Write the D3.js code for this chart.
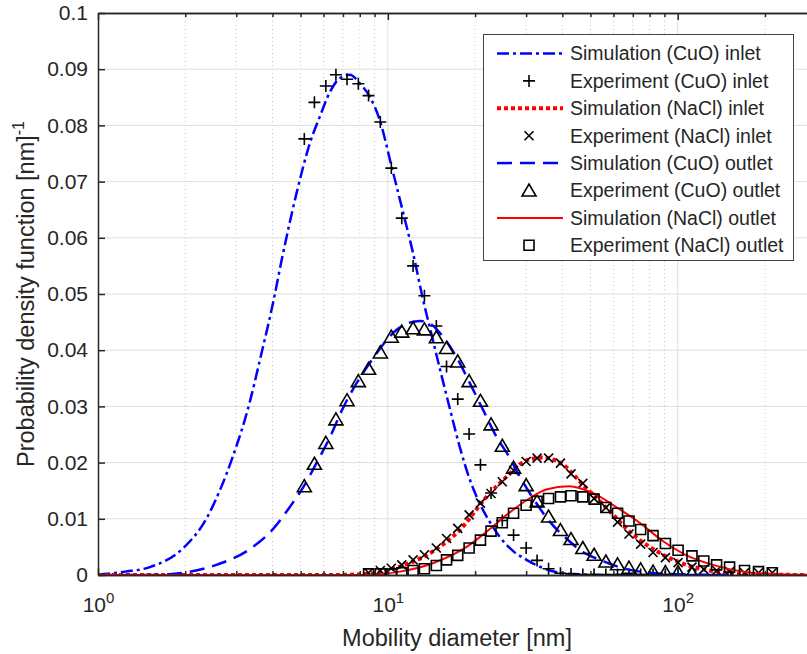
<!DOCTYPE html>
<meta charset="utf-8">
<script src="https://d3js.org/d3.v7.min.js"></script>
<style>
body { margin: 0; background: #fff; }
text { font-family: "Liberation Sans", Arial, sans-serif; fill: #262626; }
</style>
<body>
<script>
// measurement channels [nm] shared by the experiment series
var diam = [5.15, 5.58, 6.11, 6.62, 7.23, 7.91, 8.58, 9.42, 10.28, 11.17,
            12.22, 13.37, 14.7, 15.94, 17.42, 19.07, 20.87, 22.7, 24.82, 27.15,
            30.0, 32.72, 35.85, 39.4, 42.85, 47.05, 51.45, 56.5, 62.0, 67.9,
            74.5, 82.2, 90.7, 100.3, 112, 123, 136.2, 151, 170, 190, 212];

var expCuoIn = [0.0776, 0.0841, 0.0870, 0.0890, 0.0882, 0.0874, 0.0853, 0.0806, 0.0724, 0.0635,
                0.0550, 0.0497, 0.0443, 0.0371, 0.0313, 0.0251, 0.0196, 0.0146, 0.0097, 0.0071,
                0.0048, 0.0026, 0.0011, 0.0003, 0.0002, 0.0001, 0.0001, 0.0001, 0.0001, 0.0001,
                0.0001, 0.0001, 0.0001, 0.0001, null, null, null, null, null, null, null];

var expCuoOut = [0.0158, 0.0198, 0.0235, 0.0277, 0.0311, 0.0345, 0.0367, 0.0396, 0.0424, 0.0433,
                 0.0439, 0.0437, 0.0423, 0.0404, 0.0380, 0.0345, 0.0310, 0.0268, 0.0230, 0.0191,
                 0.0160, 0.0131, 0.0104, 0.0080, 0.0064, 0.0048, 0.0036, 0.0024, 0.0019, 0.0013,
                 0.0010, 0.0006, 0.0005, 0.0005, 0.0003, null, null, null, null, null, null];

var expNaclIn = [null, null, null, null, null, null, 0.0004, 0.0008, 0.0012, 0.0018,
                 0.0027, 0.0036, 0.0048, 0.0065, 0.0083, 0.0107, 0.0128, 0.0145, 0.0166, 0.0186,
                 0.0202, 0.0208, 0.0208, 0.0199, 0.0180, 0.0163, 0.0136, 0.0120, 0.0094, 0.0073,
                 0.0055, 0.0040, 0.0031, 0.0022, 0.0014, 0.0010, 0.0008, 0.0006, 0.0004, 0.0004, 0.0004];

var expNaclOut = [null, null, null, null, null, null, 0.0002, 0.0002, 0.0002, 0.0004,
                  0.0008, 0.0011, 0.0017, 0.0027, 0.0035, 0.0048, 0.0062, 0.0078, 0.0093, 0.0110,
                  0.0124, 0.0131, 0.0136, 0.0139, 0.0141, 0.0139, 0.0135, 0.0120, 0.0110, 0.0096,
                  0.0081, 0.0070, 0.0056, 0.0044, 0.0034, 0.0025, 0.0018, 0.0014, 0.0008, 0.0006, 0.0004];

// simulated curves
var simCuoInD = [1, 1.24, 1.51, 1.96, 2.37, 2.63, 2.92, 3.34, 3.62, 4.02, 4.30, 4.84, 5.38, 5.83,
                 6.32, 6.83, 7.39, 8.00, 8.66, 9.37, 10.3, 11.3, 12.2, 13.2, 14.3, 15.3, 16.4,
                 17.7, 19.2, 20.5, 22.5, 24.3, 27.0, 30.1, 34.4, 39.2, 47, 60, 150];
var simCuoInV = [0.0001, 0.0006, 0.0014, 0.0047, 0.0101, 0.0150, 0.0211, 0.0308, 0.0383, 0.0485,
                 0.0560, 0.0679, 0.0768, 0.0816, 0.0860, 0.0884, 0.0890, 0.0875, 0.0851, 0.0810,
                 0.0727, 0.0644, 0.0574, 0.0492, 0.0418, 0.0356, 0.0294, 0.0228, 0.0169, 0.0133,
                 0.0094, 0.0068, 0.0043, 0.0027, 0.0012, 0.0004, 0.0001, 0, 0];

var simCuoOutD = [1, 1.51, 1.97, 2.56, 3.34, 4.02, 4.59, 5.17, 5.67, 6.31, 7.00, 7.79, 8.66, 9.63,
                  10.7, 11.9, 12.9, 13.9, 15.5, 17.2, 19.2, 21.3, 23.7, 26.1, 28.9, 32.5, 36.3,
                  41.3, 47.1, 53.9, 64.8, 80.0, 104, 150];
var simCuoOutV = [0, 0, 0.0004, 0.0018, 0.0046, 0.0082, 0.0121, 0.0161, 0.0199, 0.0245, 0.0297,
                  0.0341, 0.0377, 0.0410, 0.0436, 0.0449, 0.0452, 0.0448, 0.0424, 0.0389, 0.0341,
                  0.0294, 0.0246, 0.0212, 0.0170, 0.0128, 0.0094, 0.0065, 0.0041, 0.0027, 0.0012,
                  0.0004, 0.0001, 0];

var simNaclInD = [1, 5, 6.45, 8.43, 11.0, 14.3, 17.7, 21.9, 25.7, 30.1, 34.4, 40.3, 47.2, 56.9,
                  70.4, 86.9, 107.3, 136, 177, 300];
var simNaclInV = [0, 0, 0, 0.0002, 0.0015, 0.0042, 0.0080, 0.0139, 0.0175, 0.0204, 0.0209, 0.0196,
                  0.0160, 0.0119, 0.0071, 0.0039, 0.0018, 0.0006, 0.0001, 0];

var simNaclOutD = [1, 5, 8.4, 11.0, 14.3, 18.7, 21.9, 25.7, 30.1, 35.2, 42.2, 50.9, 61.3, 73.9,
                   89.1, 107.3, 132.3, 167.4, 213, 300];
var simNaclOutV = [0, 0, 0, 0.0006, 0.0021, 0.0050, 0.0077, 0.0107, 0.0133, 0.0152, 0.0158, 0.0146,
                   0.0121, 0.0093, 0.0060, 0.0035, 0.0018, 0.0006, 0.0002, 0];

var yTicks = [0, 0.01, 0.02, 0.03, 0.04, 0.05, 0.06, 0.07, 0.08, 0.09, 0.1];
var xMajor = [1, 10, 100];
var xMinor = [2, 3, 4, 5, 6, 7, 8, 9, 20, 30, 40, 50, 60, 70, 80, 90, 200];

var width = 807, height = 654;
var pLeft = 98, pRight = 816, pTop = 13, pBottom = 575;

var x = d3.scaleLog().domain([1, 300]).range([pLeft, pRight]);
var y = d3.scaleLinear().domain([0, 0.1]).range([pBottom, pTop]);

var svg = d3.select("body").append("svg")
    .attr("width", width)
    .attr("height", height);

svg.append("rect").attr("width", width).attr("height", height).attr("fill", "#fff");

// grid
var grid = svg.append("g");
grid.selectAll(".minor")
    .data(xMinor)
  .enter().append("line")
    .attr("x1", d => x(d)).attr("x2", d => x(d))
    .attr("y1", pTop).attr("y2", pBottom)
    .attr("stroke", "#c4c4c4")
    .attr("stroke-dasharray", "1,3");
grid.selectAll(".gx")
    .data(xMajor.slice(1))
  .enter().append("line")
    .attr("x1", d => x(d)).attr("x2", d => x(d))
    .attr("y1", pTop).attr("y2", pBottom)
    .attr("stroke", "#dedede");
grid.selectAll(".gy")
    .data(yTicks.slice(1, -1))
  .enter().append("line")
    .attr("x1", pLeft).attr("x2", pRight)
    .attr("y1", d => y(d)).attr("y2", d => y(d))
    .attr("stroke", "#dedede");

// curves
svg.append("clipPath").attr("id", "clip")
  .append("rect")
    .attr("x", pLeft).attr("y", pTop)
    .attr("width", pRight - pLeft).attr("height", pBottom - pTop);

var line = d3.line()
    .x(d => x(d[0]))
    .y(d => y(d[1]))
    .curve(d3.curveMonotoneX);

var plot = svg.append("g").attr("clip-path", "url(#clip)");

function curve(ds, vs, color, w, dash) {
  plot.append("path")
    .attr("d", line(ds.map((d, i) => [d, vs[i]])))
    .attr("fill", "none")
    .attr("stroke", color)
    .attr("stroke-width", w)
    .attr("stroke-dasharray", dash);
}

function markerPath(kind, cx, cy) {
  if (kind == "plus") return "M" + (cx - 6) + "," + cy + "h12M" + cx + "," + (cy - 6) + "v12";
  if (kind == "cross") return "M" + (cx - 4.5) + "," + (cy - 4.5) + "l9,9M" + (cx + 4.5) + "," + (cy - 4.5) + "l-9,9";
  if (kind == "tri") return "M" + cx + "," + (cy - 6.5) + "L" + (cx + 7) + "," + (cy + 5.5) + "L" + (cx - 7) + "," + (cy + 5.5) + "Z";
  return "M" + (cx - 5) + "," + (cy - 5) + "h10v10h-10Z";
}

function markers(vs, kind) {
  plot.append("g").selectAll("path")
    .data(diam.map((d, i) => [d, vs[i]]).filter(d => d[1] != null))
  .enter().append("path")
    .attr("d", d => markerPath(kind, x(d[0]), y(d[1])))
    .attr("fill", "none")
    .attr("stroke", "#000")
    .attr("stroke-width", 1.6);
}

curve(simCuoInD, simCuoInV, "#0000ff", 2.5, "12,4,3,4");
markers(expCuoIn, "plus");
curve(simNaclInD, simNaclInV, "#ff0000", 4, "4,3");
markers(expNaclIn, "cross");
curve(simCuoOutD, simCuoOutV, "#0000ff", 2.5, "15,8");
markers(expCuoOut, "tri");
curve(simNaclOutD, simNaclOutV, "#ff0000", 2, null);
markers(expNaclOut, "square");

// axes
var axisColor = "#262626";

var yAxis = svg.append("g")
    .attr("transform", "translate(" + pLeft + ",0)")
    .call(d3.axisLeft(y).tickValues(yTicks).tickSize(-7).tickSizeOuter(0).tickPadding(10)
          .tickFormat(d => String(+d.toFixed(2))));
yAxis.selectAll("text").attr("font-size", 21).attr("font-family", null);

var xAxis = svg.append("g")
    .attr("transform", "translate(0," + pBottom + ")")
    .call(d3.axisBottom(x).tickValues(xMajor).tickSize(-7).tickSizeOuter(0).tickPadding(22));
xAxis.selectAll(".tick text")
    .attr("font-size", 21).attr("font-family", null)
    .text(null)
    .each(function(d) {
      var t = d3.select(this);
      t.append("tspan").text("10");
      t.append("tspan").attr("dy", -9).attr("font-size", 15).text(Math.round(Math.log10(d)));
    });
svg.append("g")
    .attr("transform", "translate(0," + pBottom + ")")
    .call(d3.axisBottom(x).tickValues(xMinor).tickSize(-4).tickSizeOuter(0).tickFormat(""));

svg.append("g")
    .attr("transform", "translate(0," + pTop + ")")
    .call(d3.axisTop(x).tickValues(xMajor).tickSize(-7).tickSizeOuter(0).tickFormat(""));
svg.append("g")
    .attr("transform", "translate(0," + pTop + ")")
    .call(d3.axisTop(x).tickValues(xMinor).tickSize(-4).tickSizeOuter(0).tickFormat(""));

svg.selectAll(".domain, .tick line").attr("stroke", axisColor).attr("stroke-width", 1.5);
svg.selectAll(".tick text").attr("fill", axisColor);

// axis labels
svg.append("text")
    .attr("x", (pLeft + pRight) / 2)
    .attr("y", 646)
    .attr("text-anchor", "middle")
    .attr("font-size", 23.5)
    .text("Mobility diameter [nm]");

var yl = svg.append("text")
    .attr("transform", "translate(34," + (pTop + pBottom) / 2 + ") rotate(-90)")
    .attr("text-anchor", "middle")
    .attr("font-size", 23.5);
yl.append("tspan").text("Probability density function [nm]");
yl.append("tspan").attr("dy", -10).attr("font-size", 16).text("-1");

// legend
var legendItems = [
  {label: "Simulation (CuO) inlet", color: "#0000ff", w: 2.5, dash: "12,4,3,4"},
  {label: "Experiment (CuO) inlet", marker: "plus"},
  {label: "Simulation (NaCl) inlet", color: "#ff0000", w: 4, dash: "4,3"},
  {label: "Experiment (NaCl) inlet", marker: "cross"},
  {label: "Simulation (CuO) outlet", color: "#0000ff", w: 2.5, dash: "15,8"},
  {label: "Experiment (CuO) outlet", marker: "tri"},
  {label: "Simulation (NaCl) outlet", color: "#ff0000", w: 2, dash: null},
  {label: "Experiment (NaCl) outlet", marker: "square"}
];

var legend = svg.append("g");
legend.append("rect")
    .attr("x", 483.5).attr("y", 34.5)
    .attr("width", 310).attr("height", 226)
    .attr("fill", "#fff")
    .attr("stroke", "#444")
    .attr("stroke-width", 1);

var row = legend.selectAll(".row")
    .data(legendItems)
  .enter().append("g")
    .attr("transform", (d, i) => "translate(0," + (53.5 + i * 27.4) + ")");

row.filter(d => !d.marker).append("line")
    .attr("x1", 497).attr("x2", 563)
    .attr("stroke", d => d.color)
    .attr("stroke-width", d => d.w)
    .attr("stroke-dasharray", d => d.dash);

row.filter(d => d.marker).append("path")
    .attr("d", d => markerPath(d.marker, 529, 0))
    .attr("fill", "none")
    .attr("stroke", "#000")
    .attr("stroke-width", 1.6);

row.append("text")
    .attr("x", 570)
    .attr("dy", "0.35em")
    .attr("font-size", 19.5)
    .attr("fill", "#000")
    .text(d => d.label);
</script>
</body>
</html>
